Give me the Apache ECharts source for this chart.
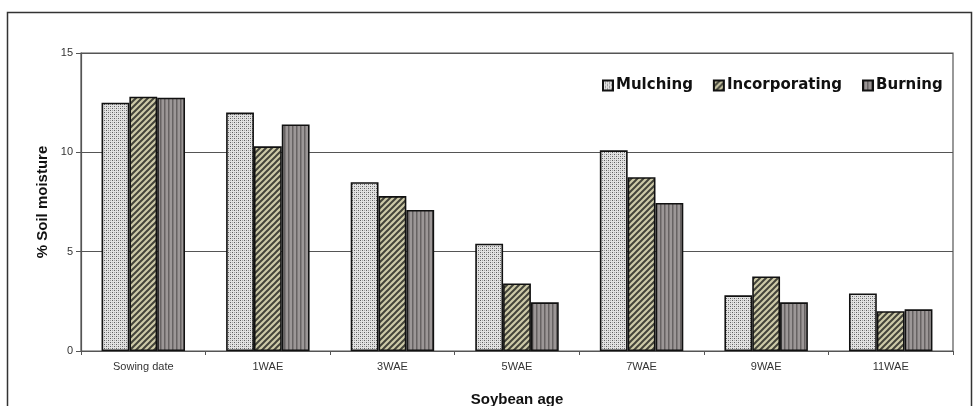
<!DOCTYPE html>
<html>
<head>
<meta charset="utf-8">
<script src="https://cdn.jsdelivr.net/npm/echarts@6/dist/echarts.min.js"></script>
<style>
html,body{margin:0;padding:0;background:#fff;}
#chart{width:975px;height:406px;}
</style>
</head>
<body>
<div id="chart"></div>
<script>
const categories = ['Sowing date', '1WAE', '3WAE', '5WAE', '7WAE', '9WAE', '11WAE'];
const mulching = [12.5, 12.0, 8.5, 5.4, 10.1, 2.8, 2.9];
const incorporating = [12.8, 10.3, 7.8, 3.4, 8.75, 3.75, 2.0];
const burning = [12.75, 11.4, 7.1, 2.45, 7.45, 2.45, 2.1];
const yTicks = [0, 5, 10, 15];

function pat(kind) {
  const c = document.createElement('canvas');
  const ctx = c.getContext('2d');
  if (kind === 'dots') {
    c.width = 4; c.height = 4;
    ctx.fillStyle = '#e2e2e2'; ctx.fillRect(0, 0, 4, 4);
    ctx.fillStyle = '#5e5e5e';
    ctx.fillRect(0, 0, 1, 1); ctx.fillRect(2, 2, 1, 1);
    ctx.fillStyle = '#a4a4a4';
    ctx.fillRect(2, 0, 1, 1); ctx.fillRect(0, 2, 1, 1);
  } else if (kind === 'diag') {
    c.width = 6; c.height = 6;
    ctx.fillStyle = '#cdcaa8'; ctx.fillRect(0, 0, 6, 6);
    ctx.strokeStyle = '#44443a'; ctx.lineWidth = 2;
    ctx.beginPath();
    ctx.moveTo(-1, 7); ctx.lineTo(7, -1);
    ctx.moveTo(-4, 4); ctx.lineTo(4, -4);
    ctx.moveTo(2, 10); ctx.lineTo(10, 2);
    ctx.stroke();
  } else {
    c.width = 4; c.height = 4;
    ctx.fillStyle = '#9c9797'; ctx.fillRect(0, 0, 4, 4);
    ctx.fillStyle = '#666262'; ctx.fillRect(0, 0, 1.5, 4);
  }
  return { image: c, repeat: 'repeat' };
}

const chart = echarts.init(document.getElementById('chart'), null, { renderer: 'canvas' });
const fontFam = '"Liberation Sans", Arial, sans-serif';
const legendFam = '"DejaVu Sans", sans-serif';
function mk(name, data, kind) {
  return {
    name: name, type: 'bar', data: data,
    barGap: '0%', barCategoryGap: '33%',
    itemStyle: { color: pat(kind), borderColor: '#111', borderWidth: 1.6 },
    emphasis: { disabled: true }
  };
}
chart.setOption({
  animation: false,
  backgroundColor: '#fff',
  graphic: [{
    type: 'rect', left: 5, top: 10, z: -10,
    shape: { width: 964, height: 420 },
    style: { fill: 'none', stroke: '#333', lineWidth: 1.5 }
  }],
  grid: { left: 81, right: 22, top: 53, bottom: 55, show: true, borderColor: '#555', borderWidth: 1.2, backgroundColor: 'transparent', outerBoundsMode: 'none', containLabel: false },
  legend: {
    left: 597, top: 73,
    itemWidth: 10, itemHeight: 10, itemGap: 20,
    icon: 'rect',
    textStyle: { fontFamily: legendFam, fontWeight: 'bold', fontSize: 15, color: '#111', padding: [0, 0, 0, -2] },
    data: ['Mulching', 'Incorporating', 'Burning']
  },
  xAxis: {
    type: 'category', data: categories,
    name: 'Soybean age', nameLocation: 'middle', nameGap: 41,
    nameTextStyle: { fontFamily: fontFam, fontWeight: 'bold', fontSize: 15, color: '#111' },
    axisLine: { lineStyle: { color: '#555', width: 1.2 } },
    axisTick: { show: true, length: 4, lineStyle: { color: '#555' } },
    axisLabel: { fontFamily: fontFam, fontSize: 11, color: '#333', margin: 10 }
  },
  yAxis: {
    type: 'value', min: yTicks[0], max: yTicks[yTicks.length - 1], interval: 5,
    name: '% Soil moisture', nameLocation: 'middle', nameGap: 30,
    nameTextStyle: { fontFamily: fontFam, fontWeight: 'bold', fontSize: 15, color: '#111' },
    axisLine: { show: true, lineStyle: { color: '#555', width: 1.2 } },
    axisTick: { show: true, length: 5, lineStyle: { color: '#555' } },
    axisLabel: { fontFamily: fontFam, fontSize: 11, color: '#333', margin: 8 },
    splitLine: { show: true, lineStyle: { color: '#555', width: 1.2 } }
  },
  series: [
    mk('Mulching', mulching, 'dots'),
    mk('Incorporating', incorporating, 'diag'),
    mk('Burning', burning, 'vert')
  ]
});
</script>
</body>
</html>
